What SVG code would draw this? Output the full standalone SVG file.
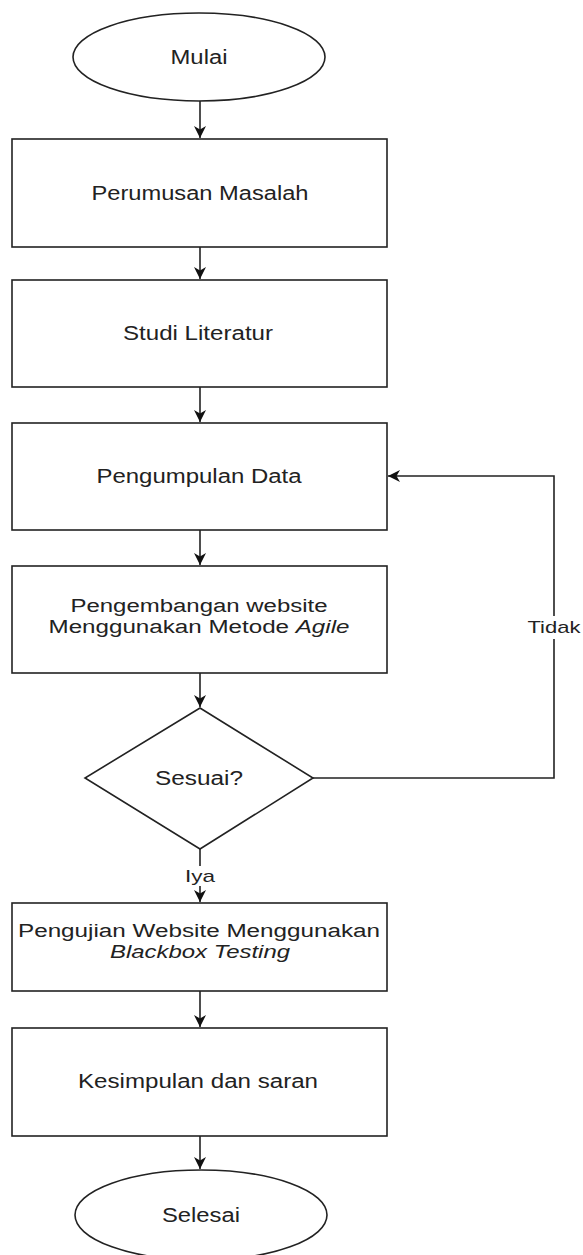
<svg xmlns="http://www.w3.org/2000/svg" width="583" height="1255" viewBox="0 0 583 1255">
<defs>
<style>
.shape{fill:#fff;stroke:#222;stroke-width:1.6}
.edge{fill:none;stroke:#222;stroke-width:1.6}
.t{font-family:"Liberation Sans",Arial,sans-serif;font-size:19.5px;fill:#222;text-anchor:middle}
.t2{font-size:18px}
.lbl{font-family:"Liberation Sans",Arial,sans-serif;font-size:17px;fill:#222;text-anchor:middle}
.i{font-style:italic}
</style>
<marker id="arr" markerUnits="userSpaceOnUse" markerWidth="14" markerHeight="14" viewBox="0 0 14 14" refX="12" refY="7" orient="auto">
<path d="M0,1 L12,7 L0,13 L3.5,7 Z" fill="#111"/>
</marker>
</defs>
<rect width="583" height="1255" fill="#fff"/>
<g id="connectors">
<line class="edge" x1="200" y1="101" x2="200" y2="138" marker-end="url(#arr)"/>
<line class="edge" x1="200" y1="247" x2="200" y2="279" marker-end="url(#arr)"/>
<line class="edge" x1="200" y1="387" x2="200" y2="422" marker-end="url(#arr)"/>
<line class="edge" x1="200" y1="530" x2="200" y2="565" marker-end="url(#arr)"/>
<line class="edge" x1="200" y1="673" x2="200" y2="707" marker-end="url(#arr)"/>
<line class="edge" x1="200" y1="849" x2="200" y2="902" marker-end="url(#arr)"/>
<line class="edge" x1="200" y1="991" x2="200" y2="1027" marker-end="url(#arr)"/>
<line class="edge" x1="200" y1="1136" x2="200" y2="1169" marker-end="url(#arr)"/>
<polyline class="edge" points="313,778 554,778 554,476 388,476" marker-end="url(#arr)"/>
<rect x="182" y="866" width="36" height="20" fill="#fff"/>
<text class="lbl" x="200" y="882" textLength="30" lengthAdjust="spacingAndGlyphs">Iya</text>
<rect x="527" y="616" width="54" height="23" fill="#fff"/>
<text class="lbl" x="554" y="633" textLength="53" lengthAdjust="spacingAndGlyphs">Tidak</text>
</g>
<g id="mulai">
<ellipse class="shape" cx="199" cy="57" rx="126" ry="44"/>
<text class="t" x="199" y="64" textLength="57" lengthAdjust="spacingAndGlyphs">Mulai</text>
</g>
<g id="perumusan">
<rect class="shape" x="12" y="139" width="375" height="108"/>
<text class="t" x="200" y="200" textLength="217" lengthAdjust="spacingAndGlyphs">Perumusan Masalah</text>
</g>
<g id="studi">
<rect class="shape" x="12" y="280" width="375" height="107"/>
<text class="t" x="198" y="340" textLength="150" lengthAdjust="spacingAndGlyphs">Studi Literatur</text>
</g>
<g id="pengumpulan">
<rect class="shape" x="12" y="423" width="375" height="107"/>
<text class="t" x="199" y="483" textLength="205" lengthAdjust="spacingAndGlyphs">Pengumpulan Data</text>
</g>
<g id="pengembangan">
<rect class="shape" x="12" y="566" width="375" height="107"/>
<text class="t t2" x="199" y="612" textLength="257" lengthAdjust="spacingAndGlyphs">Pengembangan website</text>
<text class="t t2" x="199" y="633" textLength="301" lengthAdjust="spacingAndGlyphs">Menggunakan Metode <tspan class="i">Agile</tspan></text>
</g>
<g id="sesuai">
<polygon class="shape" points="200,708 313,778 200,849 85,778"/>
<text class="t" x="199" y="785" textLength="88" lengthAdjust="spacingAndGlyphs">Sesuai?</text>
</g>
<g id="pengujian">
<rect class="shape" x="12" y="903" width="375" height="88"/>
<text class="t t2" x="199" y="937" textLength="362" lengthAdjust="spacingAndGlyphs">Pengujian Website Menggunakan</text>
<text class="t t2 i" x="200" y="958" textLength="180" lengthAdjust="spacingAndGlyphs">Blackbox Testing</text>
</g>
<g id="kesimpulan">
<rect class="shape" x="12" y="1028" width="375" height="108"/>
<text class="t" x="198" y="1088" textLength="240" lengthAdjust="spacingAndGlyphs">Kesimpulan dan saran</text>
</g>
<g id="selesai">
<ellipse class="shape" cx="201" cy="1215" rx="126" ry="45"/>
<text class="t" x="201" y="1222" textLength="78" lengthAdjust="spacingAndGlyphs">Selesai</text>
</g>
</svg>
